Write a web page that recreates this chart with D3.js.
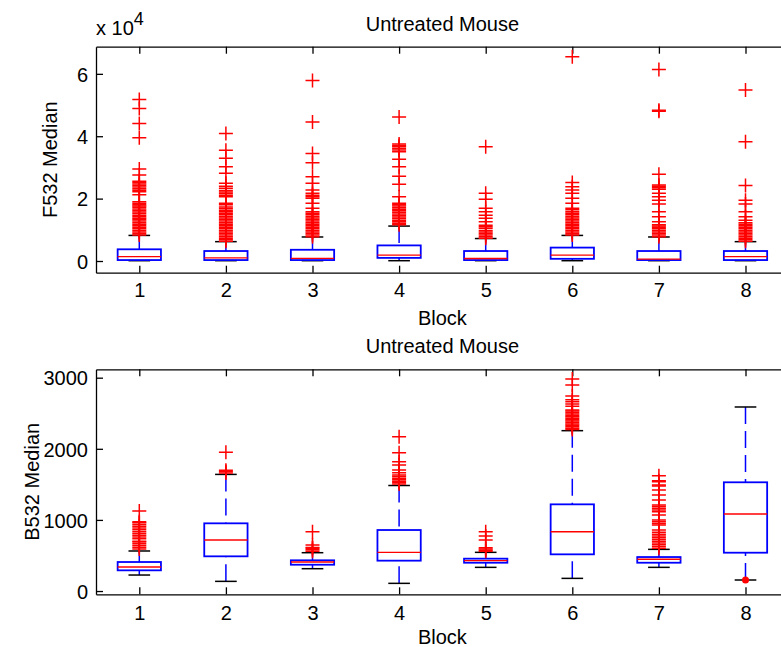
<!DOCTYPE html>
<html><head><meta charset="utf-8">
<script src="https://cdn.jsdelivr.net/npm/d3@7"></script>
<style>body{margin:0;background:#fff}svg{display:block}text{font-family:"Liberation Sans",Arial,sans-serif}</style>
</head><body><svg id="c" width="781" height="647"></svg>
<script>
const blocks = [1, 2, 3, 4, 5, 6, 7, 8];
const chartTitle = "Untreated Mouse";
const xLabel = "Block";

// Panel 1: F532 Median
const f532Ticks = [0, 20000, 40000, 60000];
const f532Q1 = [300, 300, 300, 1000, 300, 700, 300, 300];
const f532Median = [1400, 1000, 850, 1900, 800, 1900, 600, 1400];
const f532Q3 = [3750, 3200, 3600, 5000, 3200, 4300, 3200, 3200];
const f532Lower = [100, 100, 100, 100, 100, 100, 100, 100];
const f532Upper = [8200, 6200, 7700, 11200, 7200, 8200, 7700, 6200];
const f532Outliers = [
  [8300,8800,9300,9800,10300,10800,11300,11800,12300,12800,13300,13700,14200,14700,15200,15700,16200,16700,17200,17600,18000,18500,19000,21200,22200,22700,23200,23700,24200,24700,25200,25600,27600,29500,39500,44100,48900,51800],
  [6300,6800,7300,7800,8300,8800,9300,9800,10300,10800,11300,11800,12300,12800,13300,13800,14300,14800,15300,15800,16300,16800,17300,18000,18500,20600,21100,21600,22100,22600,23300,24000,24900,28100,30200,32900,35500,40900],
  [7800,8300,8800,9300,9800,10300,10800,11300,11800,12300,12800,13300,13800,14300,14800,15300,15800,16900,18500,20100,20600,21100,21700,22800,24900,27000,31500,34500,44600,57900],
  [11600,12100,12600,13100,13600,14100,14600,15100,15600,16100,16600,17100,17600,18000,18500,20600,24600,27200,30200,32600,35000,35600,36100,36600,37000,37500,46200],
  [7300,7800,8300,8800,9300,9800,10500,11000,11500,12600,13700,14700,15800,16900,19800,21700,36600],
  [8300,8800,9300,9800,10300,10800,11300,11800,12300,12800,13300,13800,14300,14800,15300,15800,16400,16900,18500,20100,21700,22800,23800,25200,65500],
  [7800,8300,8800,9300,9800,10300,10800,11200,11600,12600,14200,15800,18300,19500,20600,21700,23000,23500,24000,24400,27800,48000,48300,61400],
  [6300,6800,7300,7800,8300,8800,9300,9800,10300,10800,11300,11800,12300,13100,14200,15800,18300,19500,24200,38200,54800]
];

// Panel 2: B532 Median
const b532Ticks = [0, 1000, 2000, 3000];
const b532Q1 = [291, 488, 370, 427, 398, 516, 398, 539];
const b532Median = [338, 717, 408, 544, 427, 834, 446, 1083];
const b532Q3 = [408, 952, 432, 858, 455, 1219, 478, 1529];
const b532Lower = [225, 136, 314, 108, 333, 178, 333, 155];
const b532Upper = [563, 1640, 539, 1484, 544, 2255, 586, 2588];
const b532Outliers = [
  [590,615,640,665,690,700,735,760,785,810,835,860,885,910,935,960,975,1125],
  [1660,1680,1700,1950],
  [560,580,600,612,647,834],
  [1505,1525,1545,1565,1585,1610,1632,1665,1702,1772,1819,1946,2171],
  [560,575,590,609,717,773,834],
  [2270,2290,2310,2330,2350,2370,2390,2410,2430,2450,2470,2490,2510,2530,2546,2600,2630,2660,2690,2743,2897,2982],
  [600,625,650,675,700,725,750,775,800,825,858,928,950,975,999,1069,1115,1140,1165,1190,1210,1280,1350,1420,1477,1491,1537,1551,1622],
  []
];
const b532DotBlocks = [8];
const b532DotValues = [155];

const svg = d3.select('#c');
const FONT = '"Liberation Sans", Arial, sans-serif';
const x = d3.scaleLinear().domain([0.5, 8.5]).range([96, 788.8]);

function panel(o) {
  const y = d3.scaleLinear().domain(o.domain).range([o.bottom, o.top]);
  const g = svg.append('g');

  const styleAxis = sel => {
    sel.attr('font-size', 20).attr('font-family', FONT);
    sel.selectAll('path.domain').attr('stroke', '#000').attr('stroke-width', 1.3);
    sel.selectAll('.tick line').attr('stroke', '#000').attr('stroke-width', 1.3);
    sel.selectAll('text').attr('fill', '#000');
  };

  g.append('g').attr('transform', `translate(0,${o.bottom})`)
    .call(d3.axisBottom(x).tickValues(blocks).tickSize(-7).tickSizeOuter(0).tickFormat(d3.format('d')))
    .call(styleAxis)
    .call(s => s.selectAll('text').attr('y', o.xTickBaseline).attr('dy', 0));

  g.append('g').attr('transform', `translate(0,${o.top})`)
    .call(d3.axisTop(x).tickValues(blocks).tickSize(-7).tickSizeOuter(0).tickFormat(''))
    .call(styleAxis);

  g.append('g').attr('transform', `translate(${x.range()[0]},0)`)
    .call(d3.axisLeft(y).tickValues(o.ticks).tickSize(-7).tickSizeOuter(0).tickFormat(o.fmt))
    .call(styleAxis)
    .call(s => s.selectAll('text').attr('x', -8).attr('dy', '0.36em'));

  const data = blocks.map((b, i) => ({
    b, q1: o.q1[i], med: o.med[i], q3: o.q3[i], lw: o.lw[i], uw: o.uw[i], out: o.out[i]
  }));

  const bx = g.append('g');
  bx.selectAll('line.wu').data(data).join('line')
    .attr('x1', d => x(d.b)).attr('x2', d => x(d.b))
    .attr('y1', d => y(d.uw)).attr('y2', d => y(d.q3))
    .attr('stroke', '#0000ff').attr('stroke-width', 1.5).attr('stroke-dasharray', '17,7');
  bx.selectAll('line.wl').data(data).join('line')
    .attr('x1', d => x(d.b)).attr('x2', d => x(d.b))
    .attr('y1', d => y(d.lw)).attr('y2', d => y(d.q1))
    .attr('stroke', '#0000ff').attr('stroke-width', 1.5).attr('stroke-dasharray', '17,7');
  ['uw', 'lw'].forEach(k => {
    bx.append('g').selectAll('line').data(data).join('line')
      .attr('x1', d => x(d.b - 0.125)).attr('x2', d => x(d.b + 0.125))
      .attr('y1', d => y(d[k])).attr('y2', d => y(d[k]))
      .attr('stroke', '#000').attr('stroke-width', 1.5);
  });
  bx.append('g').selectAll('rect').data(data).join('rect')
    .attr('x', d => x(d.b - 0.25)).attr('width', d => x(d.b + 0.25) - x(d.b - 0.25))
    .attr('y', d => y(d.q3)).attr('height', d => y(d.q1) - y(d.q3))
    .attr('fill', 'none').attr('stroke', '#0000ff').attr('stroke-width', 1.8);
  bx.append('g').selectAll('line').data(data).join('line')
    .attr('x1', d => x(d.b - 0.25)).attr('x2', d => x(d.b + 0.25))
    .attr('y1', d => y(d.med)).attr('y2', d => y(d.med))
    .attr('stroke', '#ff0000').attr('stroke-width', 1.4);
  const pts = data.flatMap(d => d.out.map(v => ({ b: d.b, v })));
  bx.append('g').selectAll('path').data(pts).join('path')
    .attr('transform', d => `translate(${x(d.b)},${y(d.v)})`)
    .attr('d', 'M-7,0H7M0,-7V7')
    .attr('stroke', '#ff0000').attr('stroke-width', 1.5).attr('fill', 'none');
  if (o.dotB) {
    bx.append('g').selectAll('circle').data(o.dotB.map((b, i) => ({ b, v: o.dotV[i] }))).join('circle')
      .attr('cx', d => x(d.b)).attr('cy', d => y(d.v)).attr('r', 3.5).attr('fill', '#ff0000');
  }

  const cx = (x.range()[0] + x.range()[1]) / 2;
  svg.append('text').attr('x', cx).attr('y', o.titleY).attr('text-anchor', 'middle')
    .attr('font-size', 20).attr('fill', '#000').text(chartTitle);
  svg.append('text').attr('x', cx).attr('y', o.xLabelY).attr('text-anchor', 'middle')
    .attr('font-size', 20).attr('fill', '#000').text(xLabel);
  svg.append('text').attr('transform', `translate(${o.yLabelX},${(o.top + o.bottom) / 2}) rotate(-90)`)
    .attr('text-anchor', 'middle').attr('font-size', 20).attr('fill', '#000').text(o.yLabel);
}

panel({
  top: 46.7, bottom: 272.7, domain: [-3750, 68700], ticks: f532Ticks, fmt: d => d / 10000,
  q1: f532Q1, med: f532Median, q3: f532Q3, lw: f532Lower, uw: f532Upper, out: f532Outliers,
  xTickBaseline: 24.5, titleY: 30.5, xLabelY: 325, yLabel: 'F532 Median', yLabelX: 57
});
panel({
  top: 369.3, bottom: 594.3, domain: [-46, 3118], ticks: b532Ticks, fmt: d3.format('d'),
  q1: b532Q1, med: b532Median, q3: b532Q3, lw: b532Lower, uw: b532Upper, out: b532Outliers,
  dotB: b532DotBlocks, dotV: b532DotValues,
  xTickBaseline: 25.5, titleY: 353, xLabelY: 644, yLabel: 'B532 Median', yLabelX: 39
});

const ex = svg.append('text').attr('x', 96).attr('y', 35).attr('font-size', 20).attr('fill', '#000');
ex.append('tspan').text('x 10');
ex.append('tspan').attr('dy', -10).attr('font-size', 18).text('4');
</script></body></html>
